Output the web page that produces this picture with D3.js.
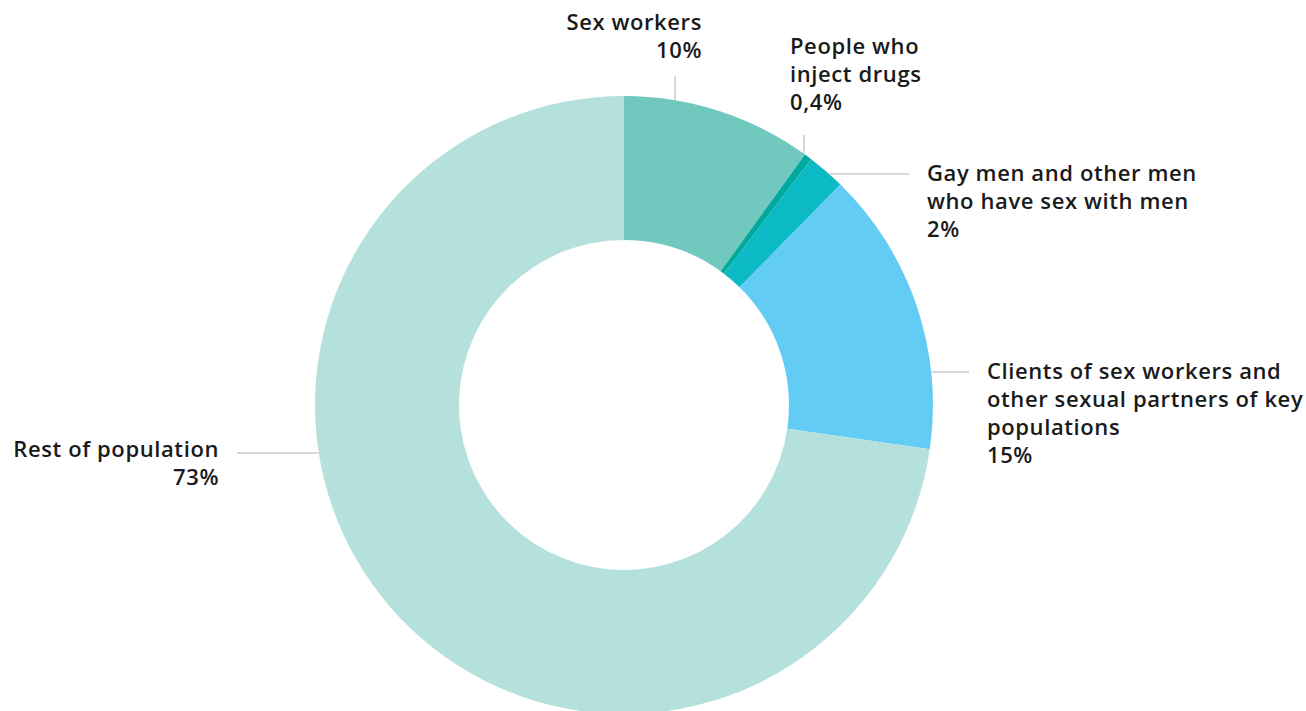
<!DOCTYPE html>
<html><head><meta charset="utf-8">
<script src="https://cdn.jsdelivr.net/npm/d3@7"></script>
<style>
html,body{margin:0;padding:0;background:#fff;overflow:hidden;}
svg text{font-family:"Open Sans",Lato,sans-serif;font-weight:600;font-size:22px;letter-spacing:0.6px;fill:#1a1a1a;}
</style></head>
<body>
<svg id="chart" width="1306" height="711"></svg>
<script>
const categories = ["Sex workers", "People who inject drugs", "Gay men and other men who have sex with men", "Clients of sex workers and other sexual partners of key populations", "Rest of population"];
const values = [10, 0.4, 2, 15, 73];
const valueLabels = ["10%", "0,4%", "2%", "15%", "73%"];
const labelLines = [
  ["Sex workers"],
  ["People who", "inject drugs"],
  ["Gay men and other men", "who have sex with men"],
  ["Clients of sex workers and", "other sexual partners of key", "populations"],
  ["Rest of population"]
];
const colors = ["#71c8be", "#00a99d", "#0bbac4", "#62ccf4", "#b5e1dd"];

const svg = d3.select("#chart");
const cx = 624, cy = 405, R = 309, r0 = 165;
const g = svg.append("g").attr("transform", `translate(${cx},${cy})`);
const pie = d3.pie().sort(null).value(d => d);
const arcs = pie(values);
const arc = d3.arc().innerRadius(r0).outerRadius(R);
g.selectAll("path").data(arcs).enter().append("path")
  .attr("d", arc).attr("fill", (d, i) => colors[i]);

const layout = [
  {type: "v", x: 675, end: 76, tx: 702, ty: 30, anchor: "end"},
  {type: "v", x: 804, end: 135, tx: 790, ty: 54, anchor: "start"},
  {type: "h", y: 174, end: 909, tx: 927, ty: 181, anchor: "start"},
  {type: "h", y: 372, end: 969, tx: 987, ty: 379, anchor: "start"},
  {type: "h", y: 453, end: 237, tx: 219, ty: 457, anchor: "end"}
];
const lh = 28;
layout.forEach((L, i) => {
  let x1, y1, x2, y2;
  if (L.type === "v") {
    const dx = L.x - cx;
    x1 = x2 = L.x; y1 = cy - Math.sqrt(R * R - dx * dx); y2 = L.end;
  } else {
    const dy = L.y - cy;
    const dx = Math.sqrt(R * R - dy * dy);
    y1 = y2 = L.y; x1 = L.end > cx ? cx + dx : cx - dx; x2 = L.end;
  }
  svg.append("line").attr("x1", x1).attr("y1", y1).attr("x2", x2).attr("y2", y2)
    .attr("stroke", "#b0b0b0").attr("stroke-width", 1);
  const lines = labelLines[i].concat([valueLabels[i]]);
  const t = svg.append("text").attr("text-anchor", L.anchor);
  lines.forEach((s, j) => {
    t.append("tspan").attr("x", L.tx).attr("y", L.ty + j * lh).text(s);
  });
});
</script>
</body></html>
